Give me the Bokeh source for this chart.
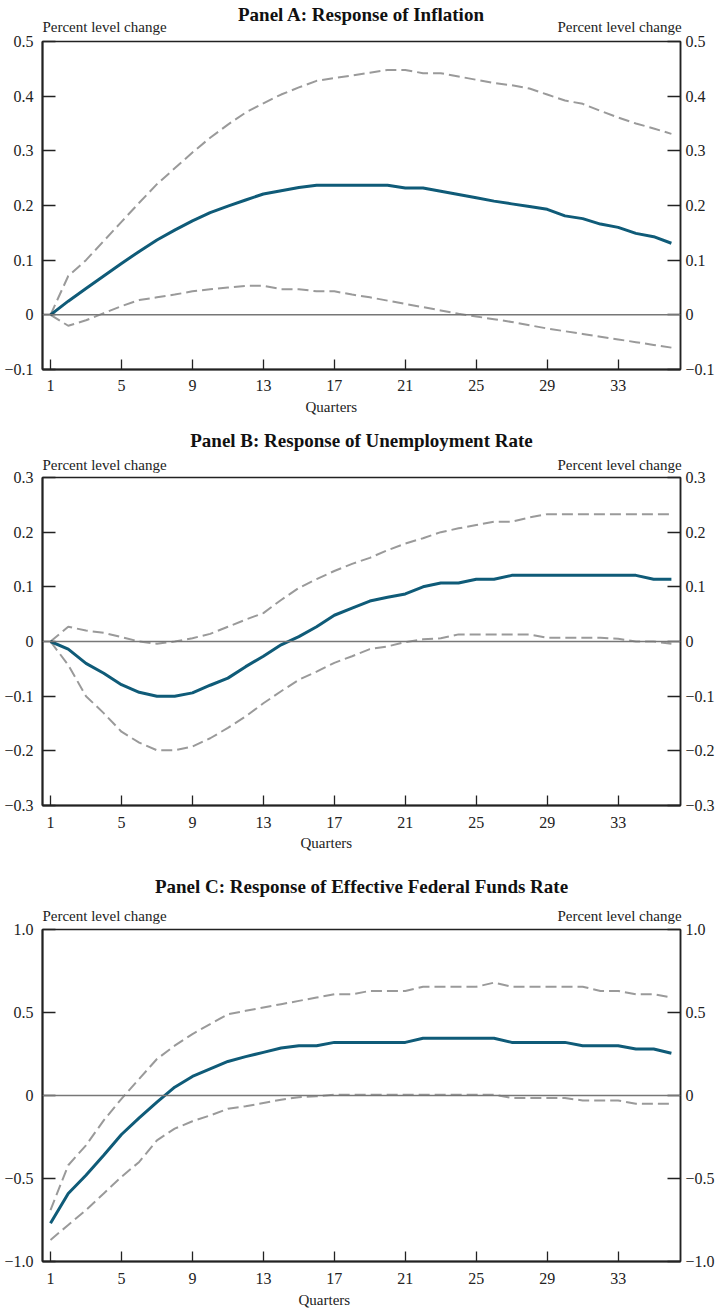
from bokeh.plotting import figure
from bokeh.models import LinearAxis, FixedTicker, Span, Range1d, Column, Title
from bokeh.embed import file_html
from bokeh.resources import INLINE

quarters = list(range(1, 37))
x_ticks = [1, 5, 9, 13, 17, 21, 25, 29, 33]

# Panel A: inflation
infl_mid = [0, 0.025, 0.048, 0.071, 0.094, 0.116, 0.137, 0.155, 0.172, 0.187, 0.199, 0.210,
            0.221, 0.227, 0.233, 0.237, 0.237, 0.237, 0.237, 0.237, 0.232, 0.232, 0.226, 0.220,
            0.214, 0.208, 0.203, 0.198, 0.193, 0.181, 0.176, 0.166, 0.160, 0.149, 0.143, 0.131]
infl_hi = [0, 0.071, 0.100, 0.135, 0.170, 0.205, 0.239, 0.268, 0.297, 0.324, 0.348, 0.370,
           0.387, 0.403, 0.416, 0.428, 0.433, 0.438, 0.443, 0.448, 0.448, 0.442, 0.442, 0.436,
           0.430, 0.424, 0.420, 0.414, 0.403, 0.392, 0.386, 0.373, 0.361, 0.350, 0.341, 0.331]
infl_lo = [0, -0.020, -0.010, 0.003, 0.016, 0.027, 0.032, 0.037, 0.043, 0.047, 0.050, 0.053,
           0.053, 0.047, 0.047, 0.043, 0.043, 0.037, 0.032, 0.026, 0.020, 0.014, 0.008, 0.002,
           -0.003, -0.008, -0.013, -0.019, -0.025, -0.030, -0.035, -0.040, -0.045, -0.050, -0.055, -0.060]

# Panel B: unemployment rate
unemp_mid = [0, -0.014, -0.040, -0.058, -0.079, -0.093, -0.100, -0.100, -0.094, -0.080, -0.067, -0.046,
             -0.027, -0.006, 0.009, 0.027, 0.048, 0.061, 0.074, 0.081, 0.087, 0.100, 0.107, 0.107,
             0.114, 0.114, 0.121, 0.121, 0.121, 0.121, 0.121, 0.121, 0.121, 0.121, 0.114, 0.114]
unemp_hi = [0, 0.027, 0.020, 0.016, 0.008, 0.000, -0.004, 0.000, 0.006, 0.014, 0.027, 0.040,
            0.052, 0.076, 0.098, 0.114, 0.129, 0.142, 0.153, 0.167, 0.179, 0.189, 0.200, 0.207,
            0.213, 0.219, 0.219, 0.227, 0.233, 0.233, 0.233, 0.233, 0.233, 0.233, 0.233, 0.233]
unemp_lo = [0, -0.043, -0.100, -0.131, -0.165, -0.185, -0.199, -0.199, -0.192, -0.177, -0.158, -0.137,
            -0.113, -0.091, -0.070, -0.055, -0.039, -0.027, -0.014, -0.009, -0.001, 0.004, 0.006, 0.013,
            0.013, 0.013, 0.013, 0.013, 0.007, 0.007, 0.007, 0.007, 0.005, 0.000, 0.000, -0.004]

# Panel C: effective federal funds rate
ffr_mid = [-0.77, -0.59, -0.48, -0.36, -0.235, -0.135, -0.04, 0.05, 0.115, 0.16, 0.205, 0.234,
           0.26, 0.286, 0.30, 0.30, 0.32, 0.32, 0.32, 0.32, 0.32, 0.345, 0.345, 0.345,
           0.345, 0.345, 0.32, 0.32, 0.32, 0.32, 0.30, 0.30, 0.30, 0.28, 0.28, 0.255]
ffr_hi = [-0.69, -0.42, -0.30, -0.15, -0.02, 0.10, 0.22, 0.30, 0.37, 0.43, 0.49, 0.51,
          0.53, 0.55, 0.57, 0.59, 0.61, 0.61, 0.63, 0.63, 0.63, 0.655, 0.655, 0.655,
          0.655, 0.68, 0.655, 0.655, 0.655, 0.655, 0.655, 0.63, 0.63, 0.61, 0.61, 0.59]
ffr_lo = [-0.87, -0.78, -0.69, -0.59, -0.49, -0.40, -0.27, -0.20, -0.155, -0.12, -0.08, -0.065,
          -0.045, -0.025, -0.01, -0.005, 0.005, 0.005, 0.005, 0.005, 0.005, 0.005, 0.005, 0.005,
          0.005, 0.005, -0.015, -0.015, -0.015, -0.015, -0.03, -0.03, -0.03, -0.05, -0.05, -0.05]

titles = ["Panel A: Response of Inflation",
          "Panel B: Response of Unemployment Rate",
          "Panel C: Response of Effective Federal Funds Rate"]
y_label = "Percent level change"
x_label = "Quarters"

# layout settings per panel (pixels)
panels = [
    dict(mid=infl_mid, hi=infl_hi, lo=infl_lo, yr=(-0.1, 0.5),
         yt=[-0.1, 0, 0.1, 0.2, 0.3, 0.4, 0.5],
         yl={-0.1: "\u22120.1", 0: "0", 0.1: "0.1", 0.2: "0.2", 0.3: "0.3", 0.4: "0.4", 0.5: "0.5"},
         fh=328, bt=41, bb=51, plc_so=7, ttl_so=-9, xl_so=10, q_off=263, q_so=6),
    dict(mid=unemp_mid, hi=unemp_hi, lo=unemp_lo, yr=(-0.3, 0.3),
         yt=[-0.3, -0.2, -0.1, 0, 0.1, 0.2, 0.3],
         yl={-0.3: "\u22120.3", -0.2: "\u22120.2", -0.1: "\u22120.1", 0: "0", 0.1: "0.1", 0.2: "0.2", 0.3: "0.3"},
         fh=328, bt=57, bb=57, plc_so=5, ttl_so=3, xl_so=11, q_off=258, q_so=4),
    dict(mid=ffr_mid, hi=ffr_hi, lo=ffr_lo, yr=(-1.0, 1.0),
         yt=[-1.0, -0.5, 0, 0.5, 1.0],
         yl={-1.0: "\u22121.0", -0.5: "\u22120.5", 0: "0", 0.5: "0.5", 1.0: "1.0"},
         fh=332, bt=67, bb=52, plc_so=6, ttl_so=8, xl_so=11, q_off=256, q_so=7),
]

W = 719
BL, BR = 42, 39
FONT = "Liberation Serif"
SOLID = "#0f5b78"
DASH = "#9a9a9a"
INK = "#222222"
PX_PER_Q = 17.74
PLC_W = 124  # approx rendered width of the "Percent level change" text


def style_y(ax, pn, standoff, width):
    ax.ticker = FixedTicker(ticks=pn["yt"], minor_ticks=[])
    ax.major_label_overrides = pn["yl"]
    ax.major_tick_in = 13
    ax.major_tick_out = 0
    ax.major_tick_line_color = INK
    ax.major_tick_line_width = 1.3
    ax.axis_line_color = INK
    ax.axis_line_width = width
    ax.major_label_text_font = FONT
    ax.major_label_text_font_size = "16px"
    ax.major_label_text_color = INK
    ax.major_label_standoff = standoff


def plot_panel(pn, title):
    y0, y1 = pn["yr"]
    frame_w = W - BL - BR
    x0 = 1 - 8 / PX_PER_Q
    x1 = x0 + frame_w / PX_PER_Q
    p = figure(width=W, height=pn["bt"] + pn["fh"] + pn["bb"], output_backend="svg",
               toolbar_location=None,
               x_range=Range1d(x0, x1), y_range=Range1d(y0, y1),
               min_border_left=BL, min_border_right=BR,
               min_border_top=pn["bt"], min_border_bottom=pn["bb"])
    p.xgrid.visible = False
    p.ygrid.visible = False
    p.outline_line_color = INK
    p.outline_line_width = 1.5
    p.background_fill_color = "white"
    p.border_fill_color = "white"

    xa = p.xaxis[0]
    xa.ticker = FixedTicker(ticks=x_ticks, minor_ticks=[])
    xa.major_tick_in = 10
    xa.major_tick_out = 0
    xa.major_tick_line_color = INK
    xa.major_tick_line_width = 1.3
    xa.axis_line_color = INK
    xa.axis_line_width = 2
    xa.major_label_text_font = FONT
    xa.major_label_text_font_size = "16px"
    xa.major_label_text_color = INK
    xa.major_label_standoff = pn["xl_so"]

    style_y(p.yaxis[0], pn, 9, 2)
    ra = LinearAxis()
    style_y(ra, pn, 5, 1.5)
    p.add_layout(ra, "right")

    # top axis: carries the two "Percent level change" captions and the panel title
    t_left = round(x0 + (PLC_W / 2) / PX_PER_Q, 3)
    t_right = round(x0 + (frame_w + 1 - PLC_W / 2) / PX_PER_Q, 3)
    ta = LinearAxis(ticker=FixedTicker(ticks=[t_left, t_right], minor_ticks=[]),
                    major_label_overrides={t_left: y_label, t_right: y_label},
                    axis_label=title)
    ta.axis_line_color = None
    ta.major_tick_line_color = None
    ta.major_tick_in = 0
    ta.major_tick_out = 0
    ta.major_label_text_font = FONT
    ta.major_label_text_font_size = "15px"
    ta.major_label_text_color = INK
    ta.major_label_standoff = pn["plc_so"]
    ta.axis_label_text_font = FONT
    ta.axis_label_text_font_size = "19px"
    ta.axis_label_text_font_style = "bold"
    ta.axis_label_text_color = "#111111"
    ta.axis_label_standoff = pn["ttl_so"]
    p.add_layout(ta, "above")

    p.add_layout(Title(text=x_label, align="left", offset=pn["q_off"], standoff=pn["q_so"],
                       text_font=FONT, text_font_size="15px", text_font_style="normal",
                       text_color=INK), "below")

    p.add_layout(Span(location=0, dimension="width", line_color="#777777", line_width=1.5))

    p.line(quarters, pn["hi"], line_color=DASH, line_width=2, line_dash="11 5")
    p.line(quarters, pn["lo"], line_color=DASH, line_width=2, line_dash="11 5")
    p.line(quarters, pn["mid"], line_color=SOLID, line_width=3)
    return p


children = [plot_panel(pn, t) for pn, t in zip(panels, titles)]
layout = Column(children=children, spacing=0)
open("out.html", "w").write(file_html(layout, INLINE))
